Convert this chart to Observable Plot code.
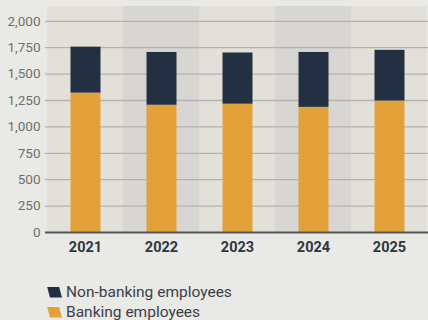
<!DOCTYPE html>
<html><head><meta charset="utf-8">
<script src="https://cdn.jsdelivr.net/npm/d3@7"></script>
<script src="https://cdn.jsdelivr.net/npm/@observablehq/plot@0.6"></script>
<style>
html,body{margin:0;padding:0;background:#e9e9e5;}
body{width:428px;height:320px;overflow:hidden;font-family:Roboto,sans-serif;}
#legend{position:absolute;left:47px;top:282px;}
.row{display:flex;align-items:center;height:20px;line-height:18px;font-size:15.5px;color:#3b4049;}
.sw{width:15px;height:11px;margin-right:4px;clip-path:polygon(0 0,80% 0,100% 100%,20% 100%);}
</style></head>
<body>
<div id="chart"></div>
<div id="legend"></div>
<script>
const years = ["2021","2022","2023","2024","2025"];
const banking = [1320, 1205, 1215, 1185, 1245];
const nonBanking = [435, 500, 485, 520, 480];
const yTicks = [0,250,500,750,1000,1250,1500,1750,2000];
const seriesNames = ["Non-banking employees","Banking employees"];
const colors = {"Non-banking employees":"#223042","Banking employees":"#e3a239"};

const data = [];
years.forEach((y,i)=>{
  data.push({year:y, series:"Banking employees", value:banking[i]});
  data.push({year:y, series:"Non-banking employees", value:nonBanking[i]});
});

const chart = Plot.plot({
  width:428, height:262,
  marginLeft:45, marginRight:0, marginTop:6, marginBottom:30,
  style:{background:"transparent", fontFamily:"Roboto, sans-serif"},
  x:{domain:years, padding:0, label:null, tickSize:0, tickPadding:9},
  y:{domain:[0,2140], label:null, ticks:yTicks, tickFormat:d=>d.toLocaleString("en-US"), tickSize:0, tickPadding:5},
  color:{domain:seriesNames, range:seriesNames.map(s=>colors[s])},
  marks:[
    Plot.cell(years,{x:d=>d, fill:(d,i)=> i%2 ? "#d7d6d2" : "#e2e0d9"}),
    Plot.ruleY(yTicks.filter(t=>t>0),{stroke:"#b3b2b0", strokeWidth:1.3}),
    Plot.barY(data, Plot.stackY({x:"year", y:"value", fill:"series", order:["Banking employees","Non-banking employees"], insetLeft:23.5, insetRight:22.5})),
    Plot.ruleY([0],{stroke:"#55585c", strokeWidth:2})
  ]
});
document.getElementById("chart").appendChild(chart);
const svg = d3.select(chart);
svg.selectAll("[aria-label='y-axis tick label']").attr("fill","#707070").attr("font-size","13.5px");
svg.selectAll("[aria-label='x-axis tick label']").attr("fill","#2d3642").attr("font-size","14.5px").attr("font-weight","bold");

const leg = document.getElementById("legend");
seriesNames.forEach(s=>{
  const r = document.createElement("div"); r.className="row";
  const sw = document.createElement("div"); sw.className="sw"; sw.style.background=colors[s];
  const t = document.createElement("span"); t.textContent=s;
  r.appendChild(sw); r.appendChild(t); leg.appendChild(r);
});
</script>
</body></html>
